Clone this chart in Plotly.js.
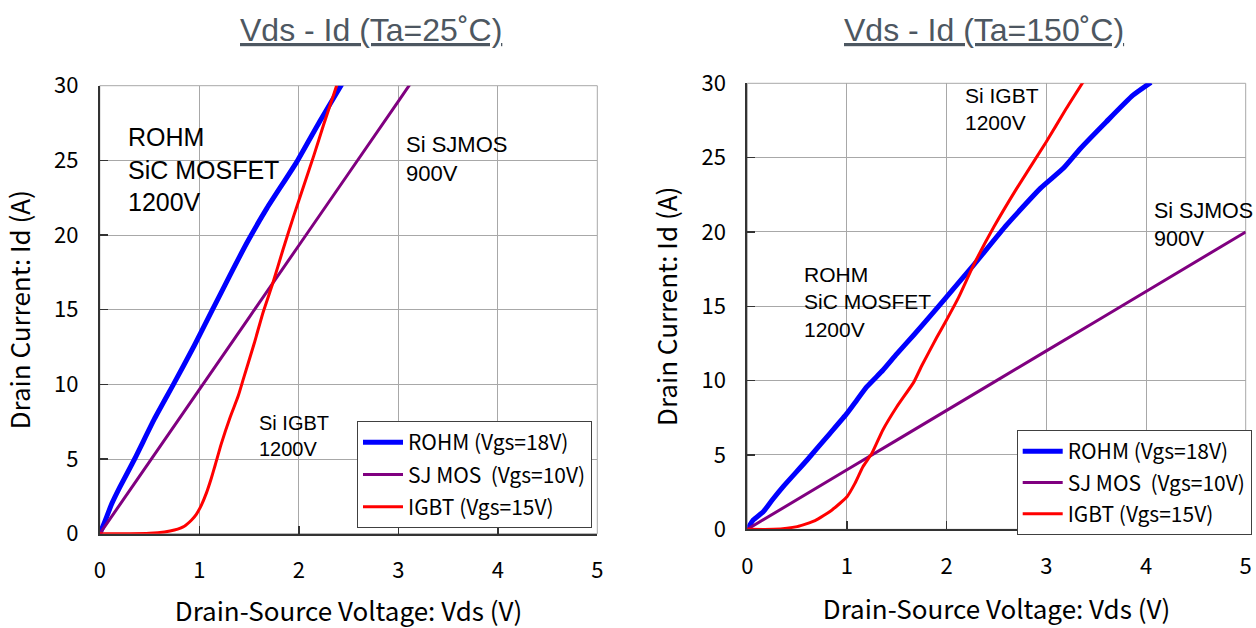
<!DOCTYPE html>
<html>
<head>
<meta charset="utf-8">
<script src="https://cdn.plot.ly/plotly-3.0.1.min.js"></script>
<style>
  html, body { margin: 0; padding: 0; background: #ffffff; }
  #chart { width: 1256px; height: 628px; }
</style>
</head>
<body>
<div id="chart"></div>
<script>
// ---------- Data ----------
// Ta = 25 C
const left_rohm_vds = [0, 0.05, 0.12, 0.2, 0.35, 0.55, 0.74, 0.95, 1.14, 1.3, 1.48, 1.68, 1.98, 2.21, 2.45];
const left_rohm_id  = [0, 0.8, 2.0, 3.1, 5.0, 7.7, 10.0, 12.6, 15.1, 17.2, 19.5, 21.8, 24.9, 27.6, 30.3];

const left_sj_vds = [0, 1, 2, 3, 3.2];
const left_sj_id  = [0, 9.65, 19.3, 28.95, 30.9];

const left_igbt_vds = [0, 0.3, 0.5, 0.65, 0.75, 0.85, 0.92, 0.97, 1.02, 1.07, 1.12, 1.16, 1.22, 1.31, 1.39, 1.44, 1.55, 1.64, 1.74, 1.84, 1.95, 2.05, 2.15, 2.25, 2.35, 2.42];
const left_igbt_id  = [0, 0, 0.03, 0.12, 0.25, 0.5, 0.9, 1.3, 1.9, 2.7, 3.7, 4.6, 6.0, 7.8, 9.2, 10.3, 12.7, 14.8, 16.8, 19.0, 21.3, 23.3, 25.3, 27.4, 29.4, 30.8];

// Ta = 150 C
const right_rohm_vds = [0, 0.06, 0.16, 0.25, 0.36, 0.6, 0.83, 1.0, 1.1, 1.2, 1.36, 1.5, 1.67, 1.83, 1.97, 2.27, 2.6, 2.94, 3.17, 3.34, 3.6, 3.87, 4.05];
const right_rohm_id  = [0, 0.63, 1.18, 1.97, 2.87, 4.66, 6.46, 7.8, 8.7, 9.59, 10.7, 11.8, 13.07, 14.3, 15.4, 17.77, 20.46, 22.93, 24.28, 25.6, 27.4, 29.2, 30.06];

const right_sj_vds = [0, 1, 2, 3, 4, 5];
const right_sj_id  = [0, 4, 8, 12, 16, 20];

const right_igbt_vds = [0, 0.26, 0.5, 0.68, 0.85, 1.0, 1.08, 1.16, 1.25, 1.36, 1.5, 1.67, 1.75, 1.9, 2.0, 2.12, 2.27, 2.47, 2.7, 3.0, 3.2, 3.37];
const right_igbt_id  = [0, 0, 0.18, 0.58, 1.3, 2.19, 3.09, 4.21, 5.11, 6.68, 8.24, 9.9, 11.0, 12.9, 14.1, 15.6, 17.77, 20.3, 22.9, 26.07, 28.3, 30.1];

const seriesNames = ['ROHM (Vgs=18V)', 'SJ MOS\u00a0 (Vgs=10V)', 'IGBT (Vgs=15V)'];
const xTickVals = [0, 1, 2, 3, 4, 5];
const yTickVals = [0, 5, 10, 15, 20, 25, 30];
const chartTitles = ['Vds - Id (Ta=25\u02DAC)', 'Vds - Id (Ta=150\u02DAC)'];
const xTitle = 'Drain-Source Voltage: Vds (V)';
const yTitle = 'Drain Current: Id (A)';

// ---------- Styles ----------
const BLUE = '#0000ff', PURPLE = '#800080', RED = '#ff0000';
const JP = '"Noto Sans CJK JP", "Noto Sans", sans-serif';
const AR = '"Liberation Sans", Arial, sans-serif';

function tr(x, y, name, color, width, xa, ya, leg, grp) {
  return { x: x, y: y, name: name, type: 'scatter', mode: 'lines',
           line: { color: color, width: width, shape: 'spline', smoothing: 0.5 }, xaxis: xa, yaxis: ya,
           legend: leg, legendgroup: grp, hoverinfo: 'skip' };
}

const data = [
  tr(left_rohm_vds, left_rohm_id, seriesNames[0], BLUE, 5, 'x', 'y', 'legend', 'a1'),
  tr(left_sj_vds, left_sj_id, seriesNames[1], PURPLE, 3, 'x', 'y', 'legend', 'a2'),
  tr(left_igbt_vds, left_igbt_id, seriesNames[2], RED, 3, 'x', 'y', 'legend', 'a3'),
  tr(right_rohm_vds, right_rohm_id, seriesNames[0], BLUE, 5, 'x2', 'y2', 'legend2', 'b1'),
  tr(right_sj_vds, right_sj_id, seriesNames[1], PURPLE, 3, 'x2', 'y2', 'legend2', 'b2'),
  tr(right_igbt_vds, right_igbt_id, seriesNames[2], RED, 3, 'x2', 'y2', 'legend2', 'b3')
];

const W = 1256, H = 628;
function xa(domain, anchor) {
  return { domain: domain, anchor: anchor, range: [0, 5], tickvals: xTickVals,
    showgrid: true, gridcolor: '#a8a8a8', gridwidth: 1, zeroline: false,
    showline: true, linecolor: '#333333', linewidth: 2,
    ticks: 'inside', ticklen: 8, tickwidth: 1.5, tickcolor: '#333333',
    tickfont: { family: JP, size: 22, color: '#000' }, ticklabelstandoff: 16,
    fixedrange: true, automargin: false,
    title: { text: xTitle, font: { family: JP, size: 26, color: '#000' }, standoff: 22 } };
}
function ya(domain, anchor) {
  return { domain: domain, anchor: anchor, range: [0, 30], tickvals: yTickVals,
    showgrid: true, gridcolor: '#a8a8a8', gridwidth: 1, zeroline: false,
    showline: true, linecolor: '#333333', linewidth: 2,
    ticks: 'inside', ticklen: 8, tickwidth: 1.5, tickcolor: '#333333',
    tickfont: { family: JP, size: 22, color: '#000' }, ticklabelstandoff: 15,
    fixedrange: true, automargin: false,
    title: { text: yTitle, font: { family: JP, size: 26, color: '#000' }, standoff: 16 } };
}

function ann(text, xref, yref, x, y, size, xanchor) {
  return { text: text, xref: xref, yref: yref, x: x, y: y, showarrow: false,
           xanchor: xanchor || 'left', yanchor: 'middle', align: 'left',
           font: { family: AR, size: size, color: '#000' } };
}

const legendFont = { family: JP, size: 21, color: '#000' };

const layout = {
  width: W, height: H,
  margin: { l: 0, r: 0, t: 0, b: 0, pad: 0 },
  paper_bgcolor: '#ffffff', plot_bgcolor: '#ffffff',
  font: { family: JP, color: '#000' },
  showlegend: true,
  xaxis: xa([99.8 / W, 597.3 / W], 'y'),
  yaxis: ya([1 - 533.7 / H, 1 - 85.7 / H], 'x'),
  xaxis2: xa([747.3 / W, 1245.7 / W], 'y2'),
  yaxis2: ya([1 - 529.3 / H, 1 - 83.3 / H], 'x2'),
  legend: { x: 357 / W, y: 1 - 421 / H, xanchor: 'left', yanchor: 'top',
    bgcolor: '#ffffff', bordercolor: '#404040', borderwidth: 1, itemwidth: 40,
    font: legendFont, tracegroupgap: 2, traceorder: 'grouped' },
  legend2: { x: 1016.7 / W, y: 1 - 430 / H, xanchor: 'left', yanchor: 'top',
    bgcolor: '#ffffff', bordercolor: '#404040', borderwidth: 1, itemwidth: 40,
    font: legendFont, tracegroupgap: 1, traceorder: 'grouped' },
  shapes: [
    { type: 'rect', xref: 'x domain', yref: 'y domain', x0: 0, x1: 1, y0: 0, y1: 1,
      line: { color: '#a8a8a8', width: 1 }, layer: 'below' },
    { type: 'rect', xref: 'x2 domain', yref: 'y2 domain', x0: 0, x1: 1, y0: 0, y1: 1,
      line: { color: '#a8a8a8', width: 1 }, layer: 'below' }
  ],
  annotations: [
    { text: '<u>' + chartTitles[0] + '</u>', xref: 'paper', yref: 'paper', x: 371 / W, y: 1 - 30 / H,
      xanchor: 'center', yanchor: 'middle', showarrow: false,
      font: { family: AR, size: 32, color: '#4d5761' } },
    { text: '<u>' + chartTitles[1] + '</u>', xref: 'paper', yref: 'paper', x: 984 / W, y: 1 - 30 / H,
      xanchor: 'center', yanchor: 'middle', showarrow: false,
      font: { family: AR, size: 32, color: '#4d5761' } },
    // Left plot labels
    ann('ROHM<br>SiC MOSFET<br>1200V', 'x', 'y', 0.26, 24.4, 25),
    ann('Si SJMOS<br>900V', 'x', 'y', 3.06, 25.1, 22),
    ann('Si IGBT<br>1200V', 'x', 'y', 1.58, 6.55, 20),
    // Right plot labels
    ann('Si IGBT<br>1200V', 'x2', 'y2', 2.16, 28.25, 21),
    ann('Si SJMOS<br>900V', 'x2', 'y2', 4.06, 20.5, 21.5),
    ann('ROHM<br>SiC MOSFET<br>1200V', 'x2', 'y2', 0.55, 15.3, 21)
  ]
};

Plotly.newPlot('chart', data, layout, { staticPlot: true, displayModeBar: false });
</script>
</body>
</html>
